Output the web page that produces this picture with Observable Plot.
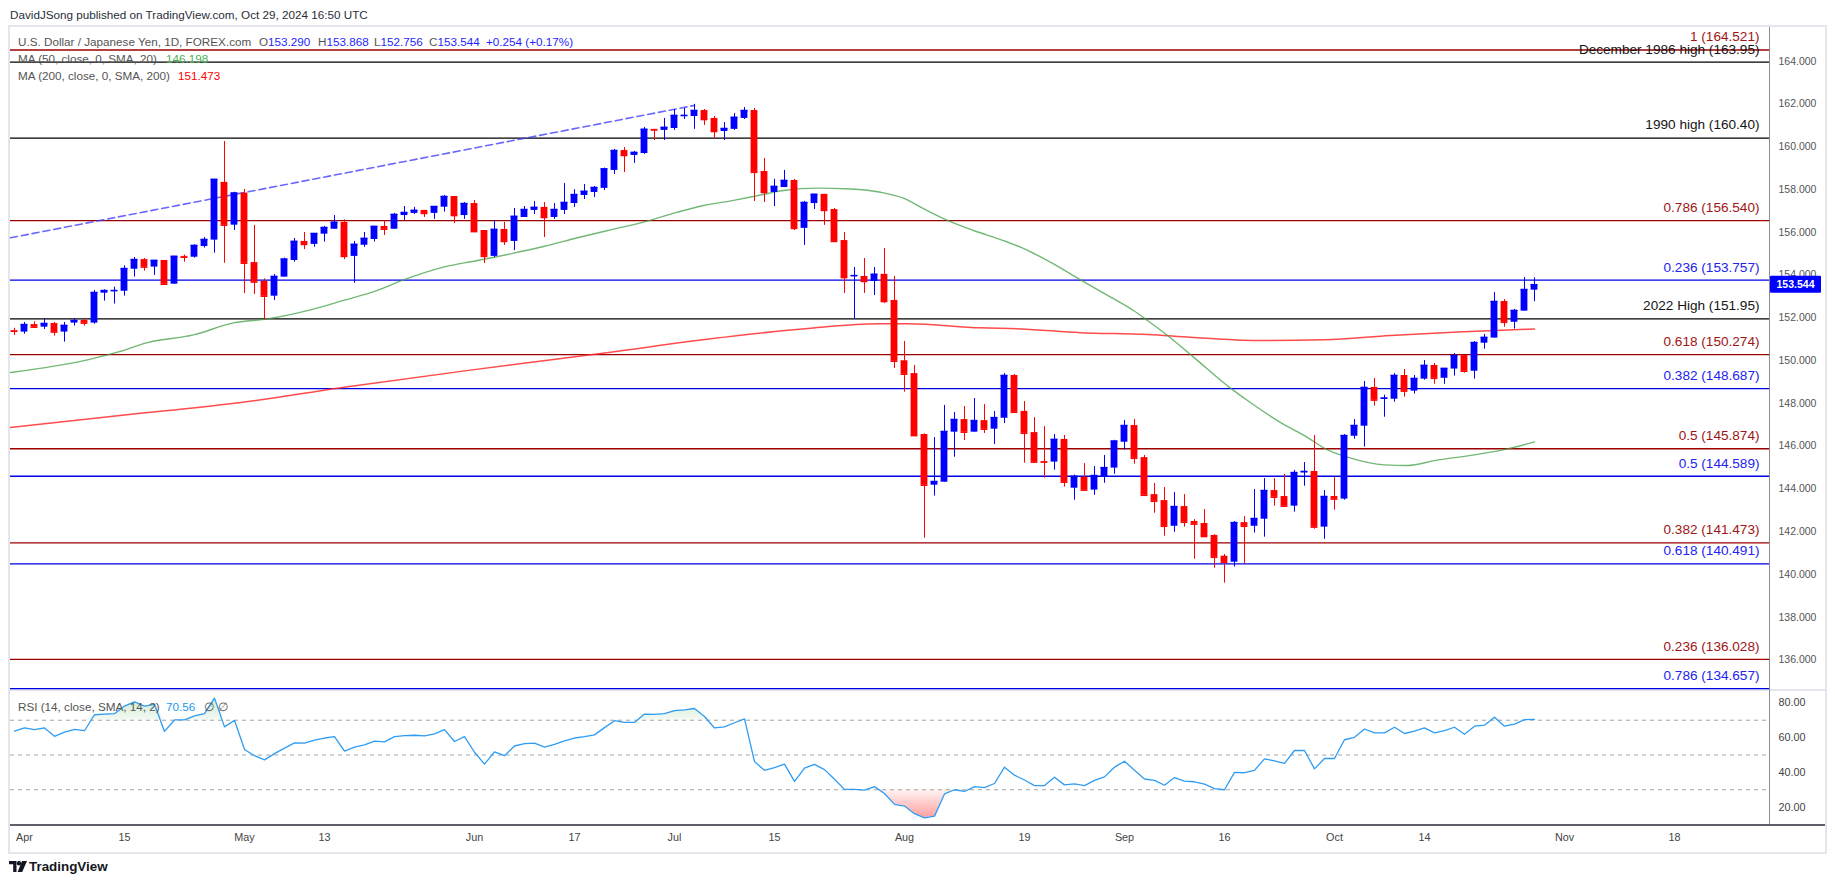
<!DOCTYPE html>
<html><head><meta charset="utf-8">
<script src="https://cdn.jsdelivr.net/npm/d3@7"></script>
<script src="https://cdn.jsdelivr.net/npm/@observablehq/plot@0.6"></script>
<style>
html,body{margin:0;padding:0;background:#fff;}
#wrap{position:relative;width:1835px;height:883px;overflow:hidden;font-family:"Liberation Sans",Arial,sans-serif;background:#fff;}
.abs{position:absolute;white-space:nowrap;}
#wrap svg{position:absolute;left:0;}
</style></head>
<body><div id="wrap"></div>
<script>
// ---------- DATA ----------
const firstIndex = -1; // trading-day offset of the first candle (Mar 29, 2024)
const openP = [
151.40,151.33,151.68,151.56,151.73,151.33,151.75,151.87,151.75,153.15,
153.24,153.24,154.27,154.72,154.37,154.68,153.57,154.87,154.83,155.33,
155.63,158.33,156.33,157.83,154.58,153.70,153.01,153.90,154.68,155.57,
155.43,155.91,156.14,156.46,154.87,155.39,155.66,156.27,156.14,156.78,
156.88,157.02,156.88,157.17,157.67,156.78,157.34,156.08,154.87,156.13,
155.57,156.69,157.02,157.16,156.69,157.02,157.34,157.72,157.86,158.05,
158.89,159.82,159.59,159.68,160.81,160.76,160.85,161.43,161.41,161.69,
161.32,160.71,160.81,161.32,161.69,158.84,157.86,158.09,158.42,156.18,
157.34,157.77,157.06,155.61,153.94,153.93,153.70,154.03,152.81,149.99,
149.39,146.54,144.17,144.31,146.65,147.24,146.65,147.19,146.79,147.30,
149.30,147.62,146.63,145.28,145.25,146.31,144.03,144.54,143.94,144.56,
144.97,146.18,146.96,145.46,143.73,143.45,142.25,143.17,142.47,142.38,
141.82,140.85,140.57,142.42,142.25,142.58,143.92,143.64,143.19,144.75,
144.81,142.21,143.64,143.52,146.46,146.93,148.74,148.19,148.19,149.30,
148.57,149.13,149.77,149.17,149.60,150.23,149.50,150.81,151.05,152.76,
151.79,152.31,153.290];
const highP = [
151.51,151.78,151.81,151.95,151.78,151.78,151.95,151.95,153.28,153.31,
153.43,154.43,154.82,154.77,154.68,154.68,154.87,154.93,155.41,155.75,
158.47,160.24,157.87,158.00,156.32,153.82,154.02,154.79,155.71,155.99,
155.94,156.27,156.78,156.58,155.57,155.99,156.27,156.53,156.88,157.20,
157.16,157.02,157.20,157.72,157.67,157.39,157.48,156.08,156.55,156.46,
157.11,157.20,157.44,157.39,157.34,158.28,157.99,158.23,158.14,159.00,
159.87,159.96,159.78,160.90,160.81,161.32,161.74,161.79,161.98,161.74,
161.41,161.13,161.55,161.83,161.79,159.45,158.47,158.89,158.47,157.44,
157.77,157.77,157.11,155.99,154.35,154.77,154.35,155.24,153.93,150.89,
149.77,146.57,146.40,147.90,147.57,147.85,148.22,147.94,147.62,149.39,
149.35,148.08,147.33,146.91,146.54,146.49,144.64,145.18,145.04,145.56,
146.27,147.19,147.24,145.56,144.25,144.06,143.83,143.73,142.56,143.03,
141.86,140.93,142.47,142.70,143.97,144.48,144.48,144.67,144.86,145.23,
146.49,143.92,144.53,146.54,147.24,149.02,149.16,148.38,149.39,149.58,
149.30,150.00,149.86,149.63,150.33,150.23,150.89,151.22,153.18,152.85,
152.39,153.88,153.868];
const lowP = [
151.17,151.23,151.50,151.45,151.14,150.86,151.61,151.61,151.70,152.78,
152.64,153.01,153.90,154.18,153.98,153.57,153.57,154.60,154.79,155.26,
155.02,154.55,156.08,153.13,153.09,151.90,152.81,153.90,154.60,155.19,
155.30,155.54,156.14,154.72,153.62,155.29,155.54,155.85,156.14,156.55,
156.83,156.69,156.60,156.94,156.41,156.60,155.99,154.54,154.82,155.38,
155.14,156.69,156.83,155.75,156.60,156.83,157.16,157.53,157.62,157.95,
158.70,158.79,159.22,159.64,160.29,160.29,160.76,161.27,160.81,160.99,
160.39,160.29,160.76,161.27,157.44,157.39,157.20,158.09,156.08,155.38,
157.06,156.32,155.57,153.14,151.95,153.14,153.04,152.67,149.63,148.52,
146.45,141.69,143.66,144.31,145.48,146.26,146.65,146.59,146.07,147.05,
147.58,145.20,145.20,144.50,144.87,144.08,143.47,143.94,143.70,144.26,
144.68,145.81,145.15,143.70,142.86,141.79,141.97,142.21,140.71,141.74,
140.29,139.59,140.34,140.48,141.93,141.74,143.19,143.14,142.91,144.12,
142.11,141.64,143.00,143.47,146.32,145.95,147.87,147.35,148.05,148.29,
148.43,149.08,148.89,148.89,149.27,149.41,149.13,150.53,151.05,151.56,
151.47,152.31,152.756];
const closeP = [
151.37,151.68,151.56,151.73,151.33,151.64,151.87,151.75,153.18,153.27,
153.27,154.30,154.72,154.37,154.68,153.57,154.87,154.83,155.38,155.66,
158.47,156.33,157.83,154.55,153.67,153.01,153.93,154.74,155.57,155.43,
155.94,156.22,156.46,154.87,155.43,155.71,156.27,156.14,156.83,156.92,
157.02,156.88,157.20,157.67,156.78,157.34,156.03,154.87,156.13,155.57,
156.74,157.06,157.16,156.69,157.06,157.39,157.76,157.91,158.09,158.96,
159.82,159.59,159.73,160.81,160.78,160.90,161.46,161.46,161.69,161.27,
160.71,160.85,161.37,161.69,158.80,157.86,158.14,158.42,156.18,157.39,
157.77,157.02,155.57,153.88,153.97,153.70,154.03,152.76,149.97,149.36,
146.49,144.17,144.34,146.68,147.24,146.65,147.19,146.79,147.33,149.30,
147.58,146.60,145.25,145.25,146.31,144.31,144.58,143.94,144.62,144.99,
146.23,146.96,145.43,143.70,143.42,142.25,143.17,142.44,142.35,141.77,
140.80,140.57,142.42,142.25,142.61,143.92,143.61,143.19,144.76,144.81,
142.21,143.64,143.52,146.49,146.96,148.74,148.15,148.24,149.30,148.57,
149.16,149.77,149.17,149.63,150.23,149.50,150.84,151.08,152.76,151.79,
152.34,153.32,153.544];
const rsiVals = [
63.8,65.6,64.6,65.6,60.8,63.2,64.8,64.0,73.2,73.6,
73.8,78.2,80.6,78.2,79.2,63.6,70.2,70.2,72.6,73.8,
82.8,66.2,70.0,53.2,49.6,47.2,50.8,54.0,57.0,56.8,
58.6,59.8,60.6,52.2,54.6,55.8,58.0,57.6,60.6,61.2,
61.4,61.0,62.2,64.6,57.8,60.6,51.6,44.8,51.8,49.6,
55.2,56.6,56.8,54.6,56.2,58.2,59.8,60.6,61.6,65.8,
69.8,68.8,68.8,73.6,73.4,73.8,75.6,76.0,76.8,72.2,
65.6,66.2,68.6,70.8,46.2,41.2,42.8,44.8,34.8,42.4,
44.6,41.6,36.0,30.2,30.2,29.8,31.8,27.8,21.6,20.6,
16.2,13.8,14.8,27.6,30.0,29.0,31.8,31.2,33.6,43.0,
38.4,35.6,32.4,32.4,37.2,32.8,33.4,32.4,35.4,37.4,
43.0,46.4,41.2,36.2,35.4,32.6,37.0,35.0,34.6,33.2,
30.6,30.0,40.0,39.8,41.2,47.8,46.6,45.2,52.6,52.6,
42.0,48.0,48.0,58.8,60.2,65.0,62.8,62.8,66.0,62.4,
63.8,65.6,62.8,64.0,66.0,62.0,66.6,67.2,71.8,66.6,
67.8,70.4,70.56];
// 50-day SMA, read at sample points (trading-day offset, value)
const ma50Idx = [-1.4,6.3,9.3,12.3,16.9,20.9,24.3,28.6,31.9,35.3,37.9,41.9,45.3,48.6,51.9,55.3,58.6,61.9,65.3,67.9,70.9,72.9,75.9,79.3,82.6,85.6,87.9,89.9,92.3,94.9,97.9,99.6,102.9,105.6,108.9,110.9,112.3,114.3,116.9,120.6,122.3,126,128,130.3,132.3,136,138.3,141,145,148.3,151];
const ma50Val = [149.44,150.03,150.39,150.84,151.20,151.76,151.95,152.37,152.81,153.28,153.77,154.37,154.68,154.99,155.33,155.74,156.11,156.47,156.94,157.25,157.49,157.67,157.95,158.06,158.02,157.87,157.59,157.10,156.55,156.08,155.61,155.30,154.52,153.77,152.89,152.34,151.87,151.17,150.16,148.71,148.13,146.99,146.49,145.82,145.48,145.12,145.09,145.32,145.59,145.87,146.198];
// 200-day SMA sample points
const ma200Idx = [-1.4,10,21,32.7,44.4,58.6,68.6,78.6,85.3,88.3,95.6,99.6,105.6,112.3,116.6,123.3,130,136.6,143.3,151];
const ma200Val = [146.87,147.45,148.0,148.8,149.54,150.39,151.02,151.51,151.72,151.72,151.53,151.48,151.30,151.22,151.09,150.94,150.97,151.17,151.33,151.473];
// dashed trend line (start at left edge, end at the July high)
const trendIdx = [-1.4, 67];
const trendVal = [155.74, 161.93];
// horizontal levels
const levelValues = [164.521,163.95,160.40,156.540,153.757,151.95,150.274,148.687,145.874,144.589,141.473,140.491,136.028,134.657];
const levelLabels = ["1 (164.521)","December 1986 high (163.95)","1990 high (160.40)","0.786 (156.540)","0.236 (153.757)","2022 High (151.95)","0.618 (150.274)","0.382 (148.687)","0.5 (145.874)","0.5 (144.589)","0.382 (141.473)","0.618 (140.491)","0.236 (136.028)","0.786 (134.657)"];
const levelGroup = ["fibA","hist","hist","fibA","fibB","hist","fibA","fibB","fibA","fibB","fibA","fibB","fibA","fibB"];
const priceTicks = [136,138,140,142,144,146,148,150,152,154,156,158,160,162,164];
const rsiTicks = [20,40,60,80];
const rsiBands = [70,50,30];
const tickIdx = [0,10,22,30,45,55,65,75,88,100,110,120,131,140,154,165];
const tickLbl = ["Apr","15","May","13","Jun","17","Jul","15","Aug","19","Sep","16","Oct","14","Nov","18"];
const lastClose = 153.544;

// ---------- STYLES ----------
const UP = "#0000ff", DN = "#ff0000";
const lineColor = {fibA:"#9b0000", fibB:"#0000e6", hist:"#000000"};
const textColor = {fibA:"#a01515", fibB:"#2323f0", hist:"#151515"};
const FONT = '"Liberation Sans", Arial, sans-serif';
const LEG = 11.7;

// ---------- BUILD ----------
const candles = openP.map((o,k)=>({i:k+firstIndex,o,h:highP[k],l:lowP[k],c:closeP[k]}));
const up = candles.filter(d=>d.c>=d.o), dn = candles.filter(d=>d.c<d.o);
const rsiData = rsiVals.map((v,k)=>({i:k+firstIndex,v}));
const ma50 = ma50Idx.map((i,k)=>({i,v:ma50Val[k]}));
const ma200 = ma200Idx.map((i,k)=>({i,v:ma200Val[k]}));
const trend = trendIdx.map((i,k)=>({i,v:trendVal[k]}));
const levels = levelValues.map((v,k)=>({v,label:levelLabels[k],g:levelGroup[k]}));
const groups = ["fibA","fibB","hist"];
const HW = 0.34;

const W = 1835, xDom = [-1.4, 174.5];
const wrap = document.getElementById("wrap");

function box(l,t,w,h,c){const d=document.createElement("div");d.className="abs";d.style.cssText=`left:${l}px;top:${t}px;width:${w}px;height:${h}px;background:${c}`;wrap.appendChild(d);return d;}
function txt(s,l,cy,o={}){const size=o.size||LEG;const d=document.createElement("div");d.className="abs";d.textContent=s;d.style.cssText=`left:${l}px;top:${cy-size*0.5}px;font-size:${size}px;line-height:${size}px;color:${o.color||"#555"};font-weight:${o.weight||"normal"};z-index:5`;wrap.appendChild(d);return d;}

const priceMarks = [];
for (const g of groups) {
  const sub = levels.filter(d=>d.g===g);
  priceMarks.push(Plot.ruleY(sub,{y:"v",stroke:lineColor[g],strokeWidth:1.3}));
}
priceMarks.push(
  Plot.line(ma200,{x:"i",y:"v",stroke:"#ff2b2b",strokeWidth:1.5,strokeOpacity:0.85,curve:"monotone-x"}),
  Plot.line(ma50,{x:"i",y:"v",stroke:"#43a047",strokeWidth:1.4,strokeOpacity:0.75,curve:"monotone-x"}),
  Plot.line(trend,{x:"i",y:"v",stroke:"#3535ff",strokeOpacity:0.75,strokeWidth:1.6,strokeDasharray:"7,4"}),
  Plot.ruleX(up,{x:"i",y1:"l",y2:"h",stroke:UP,strokeWidth:1}),
  Plot.ruleX(dn,{x:"i",y1:"l",y2:"h",stroke:DN,strokeWidth:1}),
  Plot.rect(up,{x1:d=>d.i-HW,x2:d=>d.i+HW,y1:"o",y2:"c",fill:UP}),
  Plot.rect(dn,{x1:d=>d.i-HW,x2:d=>d.i+HW,y1:"o",y2:"c",fill:DN}),
  Plot.ruleY(up,{x1:d=>d.i-HW,x2:d=>d.i+HW,y:"c",stroke:UP,strokeWidth:1.6}),
  Plot.ruleY(dn,{x1:d=>d.i-HW,x2:d=>d.i+HW,y:"c",stroke:DN,strokeWidth:1.6})
);
for (const g of groups) {
  const sub = levels.filter(d=>d.g===g);
  priceMarks.push(Plot.text(sub,{y:"v",text:"label",frameAnchor:"right",textAnchor:"end",dx:-10,dy:-13,fill:textColor[g],fontSize:13.6,fontFamily:FONT}));
}

const price = Plot.plot({
  width:W, height:664, marginLeft:10, marginRight:66, marginTop:0, marginBottom:0,
  style:{background:"transparent",color:"#555",fontFamily:FONT,fontSize:"10.5px",overflow:"visible"},
  x:{domain:xDom, axis:null},
  y:{domain:[134.57,165.62], axis:"right", ticks:priceTicks, tickFormat:d=>d.toFixed(3), tickSize:0, tickPadding:9, label:null},
  marks: priceMarks
});
price.style.top = "26px";

const rsi = Plot.plot({
  width:W, height:161, marginLeft:10, marginRight:66, marginTop:0, marginBottom:27,
  style:{background:"transparent",color:"#444",fontFamily:FONT,fontSize:"10.8px",overflow:"visible"},
  x:{domain:xDom, ticks:tickIdx, tickFormat:d=>tickLbl[tickIdx.indexOf(d)], tickSize:0, tickPadding:8, label:null},
  y:{domain:[9.4,86.6], axis:"right", ticks:rsiTicks, tickFormat:d=>d.toFixed(2), tickSize:0, tickPadding:9, label:null},
  marks:[
    Plot.areaY(rsiData,{x:"i",y1:70,y2:d=>Math.max(d.v,70),fill:"url(#obGrad)"}),
    Plot.areaY(rsiData,{x:"i",y1:30,y2:d=>Math.min(d.v,30),fill:"url(#osGrad)"}),
    Plot.ruleY(rsiBands,{y:d=>d,stroke:"#a5a5a5",strokeWidth:1.1,strokeDasharray:"4,4"}),
    Plot.line(rsiData,{x:"i",y:"v",stroke:"#2f9cf3",strokeWidth:1.3})
  ]
});
rsi.style.top = "691px";
{
  const defs = d3.select(rsi).insert("defs",":first-child");
  const os = defs.append("linearGradient").attr("id","osGrad").attr("x1",0).attr("y1",0).attr("x2",0).attr("y2",1);
  os.append("stop").attr("offset",0).attr("stop-color","#ff5252").attr("stop-opacity",0.06);
  os.append("stop").attr("offset",1).attr("stop-color","#ff5252").attr("stop-opacity",0.55);
  const ob = defs.append("linearGradient").attr("id","obGrad").attr("x1",0).attr("y1",0).attr("x2",0).attr("y2",1);
  ob.append("stop").attr("offset",0).attr("stop-color","#4caf50").attr("stop-opacity",0.28);
  ob.append("stop").attr("offset",1).attr("stop-color","#4caf50").attr("stop-opacity",0.06);
}

// frame and separators
box(8,25,1819,2,"#e3e6ec");
box(8,25,2,829,"#e3e6ec");
box(1825,25,2,829,"#e3e6ec");
box(8,852,1819,2,"#e3e6ec");
box(10,689,1815,2,"#e3e6ec");
wrap.appendChild(price);
wrap.appendChild(rsi);
box(1769,27,1,798,"#8a8d96");
box(10,824,1815,2,"#5d606b");

// current price box on the axis
{
  const yS = price.scale("y");
  const yp = yS.apply(lastClose);
  const s = d3.select(price);
  s.append("rect").attr("x",1770).attr("y",yp-8.5).attr("width",51).attr("height",17).attr("fill","#0000ff").attr("rx",1);
  s.append("text").attr("x",1795.5).attr("y",yp).attr("dy","0.36em").attr("text-anchor","middle")
    .attr("fill","#fff").attr("font-weight","bold").attr("font-size","10.5px").text(lastClose.toFixed(3));
}

// header & legends
txt("DavidJSong published on TradingView.com, Oct 29, 2024 16:50 UTC",10,15,{color:"#2a2e39"});
txt("U.S. Dollar / Japanese Yen, 1D, FOREX.com",18,42.3);
const BLUE = "#1f1fff";
[["O","153.290",259],["H","153.868",318],["L","152.756",374],["C","153.544",429]].forEach(([k,v,x])=>{
  const d = txt(k,x,42.3); const w = d.getBoundingClientRect().width;
  txt(v,x+w,42.3,{color:BLUE});
});
txt("+0.254 (+0.17%)",486,42.3,{color:BLUE});
txt("MA (50, close, 0, SMA, 20)",18,59);
txt("146.198",166,59,{color:"#4caf50"});
txt("MA (200, close, 0, SMA, 200)",18,75.7);
txt("151.473",178,75.7,{color:"#ff0000"});
txt("RSI (14, close, SMA, 14, 2)",18,707);
txt("70.56",166,707,{color:"#2196f3"});
txt("\u2205",204,707);
txt("\u2205",218,707);

// TradingView logo
{
  const lg = document.createElementNS("http://www.w3.org/2000/svg","svg");
  lg.setAttribute("width","18");lg.setAttribute("height","11");
  lg.style.cssText="position:absolute;left:9px;top:861px;";
  lg.innerHTML='<path d="M0 0H7.5V11H4.2V3.2H0Z" fill="#131722"/><circle cx="10" cy="2.2" r="2.2" fill="#131722"/><path d="M13 0H18L13.2 11H8.6Z" fill="#131722"/>';
  wrap.appendChild(lg);
  txt("TradingView",29,866.5,{size:13.4,color:"#131722",weight:"600"});
}
</script></body></html>
